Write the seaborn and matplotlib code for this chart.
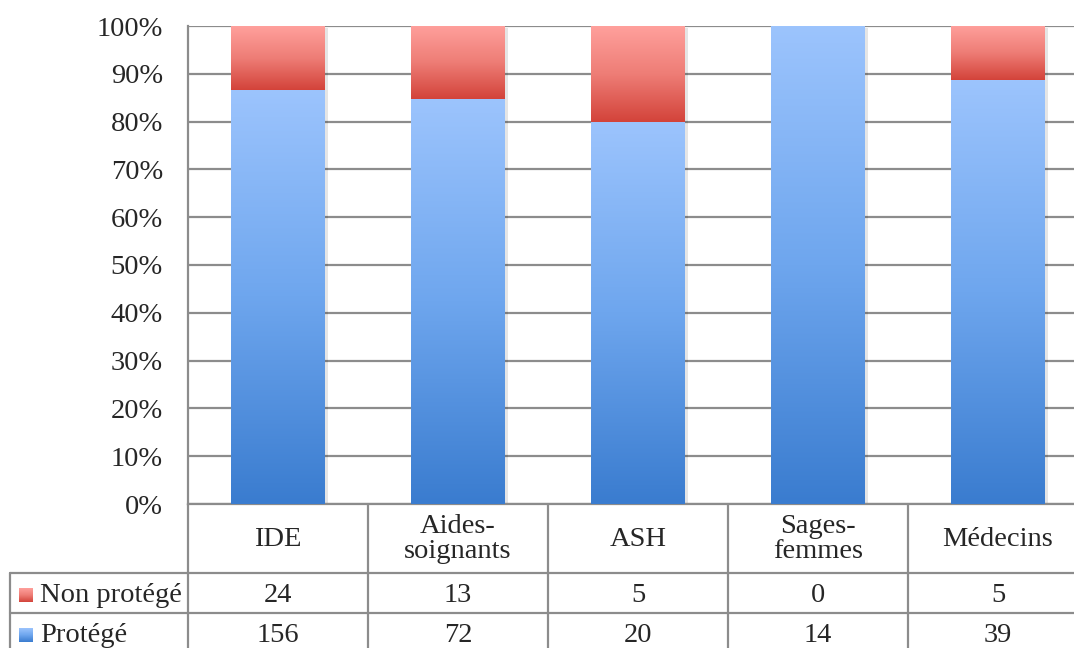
import numpy as np
import pandas as pd
import matplotlib
matplotlib.use("Agg")
import matplotlib.pyplot as plt
import seaborn as sns
from matplotlib.colors import LinearSegmentedColormap
from matplotlib.transforms import blended_transform_factory, offset_copy
from matplotlib.patches import Rectangle

# ---- data ----
categories = ["IDE", "Aides-\nsoignants", "ASH", "Sages-\nfemmes", "Médecins"]
non_protege = [24, 13, 5, 0, 5]
protege = [156, 72, 20, 14, 39]
series_labels = ["Non protégé", "Protégé"]
y_ticks = [0, 10, 20, 30, 40, 50, 60, 70, 80, 90, 100]

# ---- style ----
sns.set_theme(style="white")
plt.rcParams["font.family"] = ["Liberation Serif", "DejaVu Serif"]
GRID = "#8c8c8c"
blue_cmap = LinearSegmentedColormap.from_list("b", ["#3a7ccf", "#6ea6ee", "#9cc4fd"])
red_cmap = LinearSegmentedColormap.from_list("r", ["#d3433a", "#ee7d76", "#ffa09c"])
FS = 20.5

W, H = 1074, 648
fig = plt.figure(figsize=(W / 100, H / 100), dpi=100)
ax = fig.add_axes([188 / W, (H - 504) / H, 900 / W, 478 / H])

df = pd.DataFrame({"cat": categories, "non": non_protege, "pro": protege})
df["total"] = df["non"] + df["pro"]
df["pct_pro"] = df["pro"] / df["total"] * 100
df["pct_all"] = 100.0

sns.barplot(data=df, x="cat", y="pct_all", color="#ee7d76", width=0.52, ax=ax,
            saturation=1, zorder=2, linewidth=0, edgecolor="none")
red_patches = list(ax.patches)
sns.barplot(data=df, x="cat", y="pct_pro", color="#6ea6ee", width=0.52, ax=ax,
            saturation=1, zorder=3, linewidth=0, edgecolor="none")
blue_patches = [p for p in ax.patches if p not in red_patches]

grad = np.linspace(0, 1, 256).reshape(-1, 1)
shadow_tr = offset_copy(ax.transData, fig=fig, x=3, y=-2, units="dots")
for rp, bp in zip(red_patches, blue_patches):
    x0, w = bp.get_x(), bp.get_width()
    yb = bp.get_height()
    yt = rp.get_height()
    ax.add_patch(Rectangle((x0, 0), w, yt, transform=shadow_tr, color="#000000",
                           alpha=0.10, zorder=1.5, lw=0))
    ax.imshow(grad, extent=[x0, x0 + w, 0, yb], origin="lower", cmap=blue_cmap,
              aspect="auto", zorder=3.5)
    if yt - yb > 0.01:
        ax.imshow(grad, extent=[x0, x0 + w, yb, yt], origin="lower", cmap=red_cmap,
                  aspect="auto", zorder=3.5)

ax.set_xlim(-0.5, 4.5)
ax.set_ylim(0, 100)
ax.set_yticks(y_ticks)
ax.set_yticklabels([f"{t}%" for t in y_ticks], fontsize=FS)
ax.tick_params(axis="y", length=0, pad=18)
ax.set_xticks([])
ax.set_xlabel("")
ax.set_ylabel("")
ax.set_axisbelow(True)
ax.yaxis.grid(True, color=GRID, lw=1.6)
for s in ["top", "right"]:
    ax.spines[s].set_visible(False)
for s in ["left", "bottom"]:
    ax.spines[s].set_color(GRID)
    ax.spines[s].set_linewidth(1.6)

# ---- data table ----
trans = blended_transform_factory(ax.transData, ax.transAxes)
def yf(px):
    return (504 - px) / 478

xl = -0.5 + (10 - 188) / 180
for ypx in [573, 613, 653]:
    ax.plot([xl, 4.7], [yf(ypx), yf(ypx)], transform=trans, clip_on=False,
            color=GRID, lw=1.6)
for i in range(6):
    xv = i - 0.5
    ax.plot([xv, xv], [yf(504), yf(660)], transform=trans, clip_on=False,
            color=GRID, lw=1.6)
ax.plot([xl, xl], [yf(573), yf(660)], transform=trans, clip_on=False,
        color=GRID, lw=1.6)

for i, c in enumerate(categories):
    ax.text(i, yf(539), c, transform=trans, ha="center", va="center",
            fontsize=FS, linespacing=1.02)
    ax.text(i, yf(595), str(non_protege[i]), transform=trans, ha="center",
            va="center", fontsize=FS)
    ax.text(i, yf(635), str(protege[i]), transform=trans, ha="center",
            va="center", fontsize=FS)

xt = -0.5 + (40 - 188) / 180
ax.text(xt, yf(595), series_labels[0], transform=trans, ha="left", va="center",
        fontsize=FS)
ax.text(xt, yf(635), series_labels[1], transform=trans, ha="left", va="center",
        fontsize=FS)

for ytop, cmap in [(588, red_cmap), (628, blue_cmap)]:
    iax = fig.add_axes([19 / W, (H - ytop - 14) / H, 14 / W, 14 / H])
    iax.imshow(grad, origin="lower", cmap=cmap, aspect="auto")
    iax.axis("off")

fig.savefig("out.png", dpi=100)
